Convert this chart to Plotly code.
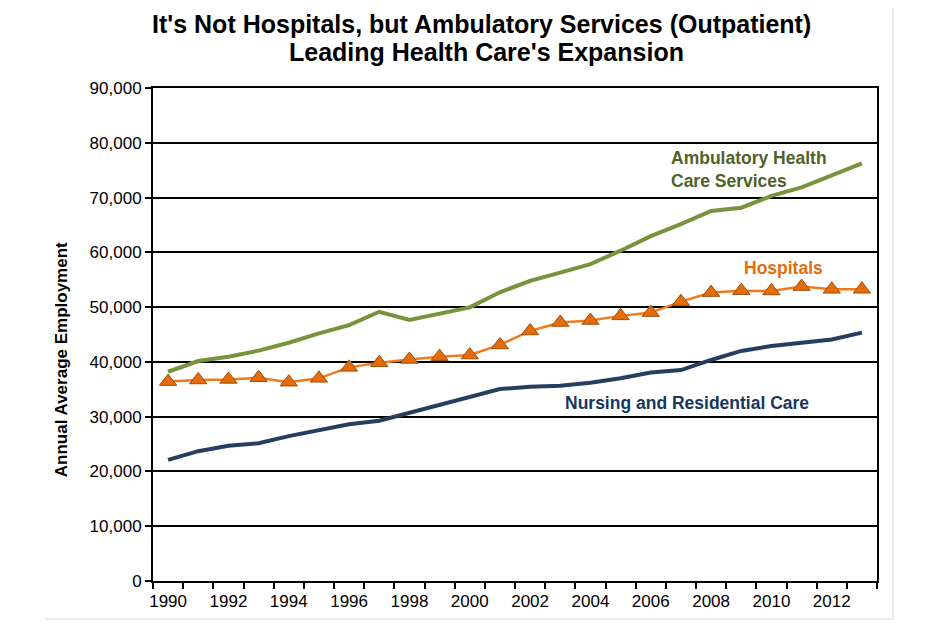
import plotly.graph_objects as go

years = list(range(1990, 2014))

ambulatory = [38200, 40150, 40950, 42050, 43500, 45200, 46700, 49150, 47650, 48750, 49950, 52700,
              54800, 56300, 57850, 60300, 62950, 65150, 67550, 68150, 70300, 71850, 74050, 76250]
hospitals = [36400, 36700, 36800, 37100, 36300, 37000, 39000, 39850, 40450, 40950, 41250, 43100,
             45650, 47200, 47550, 48400, 49000, 51000, 52650, 53000, 52950, 53750, 53250, 53250]
nursing = [22100, 23700, 24700, 25150, 26450, 27550, 28600, 29250, 30700, 32100, 33650, 35050,
           35450, 35650, 36200, 37000, 38050, 38500, 40350, 42000, 42900, 43500, 44100, 45350]

year_labels = [str(y) for y in range(1990, 2013, 2)]

title_lines = ["It's Not Hospitals, but Ambulatory Services (Outpatient)",
               "Leading Health Care's Expansion"]

fig = go.Figure()

fig.add_trace(go.Scatter(x=years, y=ambulatory, mode="lines", name="Ambulatory Health Care Services",
                         line=dict(color="#77933C", width=4)))
fig.add_trace(go.Scatter(x=years, y=nursing, mode="lines", name="Nursing and Residential Care",
                         line=dict(color="#243F60", width=4)))
fig.add_trace(go.Scatter(x=years, y=hospitals, mode="lines+markers", name="Hospitals",
                         line=dict(color="#F07B1E", width=2.5),
                         marker=dict(symbol="triangle-up", size=15, color="#E46C0A",
                                     line=dict(color="#A04E0A", width=1))))

# title lines as annotations (multi-line title got clipped at the top)
title_font = dict(family="Liberation Sans", size=25, color="black", weight="bold")
fig.add_annotation(xref="paper", yref="paper", x=0.454, y=1.130, xanchor="center", yanchor="middle",
                   text=title_lines[0], showarrow=False, font=title_font)
fig.add_annotation(xref="paper", yref="paper", x=0.460, y=1.073, xanchor="center", yanchor="middle",
                   text=title_lines[1], showarrow=False, font=title_font)

# y axis title, placed by hand (it sits a bit below the middle in the original)
fig.add_annotation(xref="paper", yref="paper", x=-0.127, y=0.448, xanchor="center", yanchor="middle",
                   text="Annual Average Employment", textangle=-90, showarrow=False,
                   font=dict(family="Liberation Sans", size=17, color="black", weight="bold"))

# series labels placed next to the lines
fig.add_annotation(x=2006.6, y=75100, text="Ambulatory Health<br>Care Services", showarrow=False,
                   xanchor="left", yanchor="middle", align="left",
                   font=dict(family="Liberation Sans", size=17.5, color="#4F6228", weight="bold"))
fig.add_annotation(x=2010.4, y=57100, text="Hospitals", showarrow=False,
                   font=dict(family="Liberation Sans", size=17.5, color="#E46C0A", weight="bold"))
fig.add_annotation(x=2007.2, y=32450, text="Nursing and Residential Care", showarrow=False,
                   font=dict(family="Liberation Sans", size=17.5, color="#17375E", weight="bold"))

# faint outer chart frame (right and bottom edges only visible)
fig.add_shape(type="line", xref="paper", yref="paper", x0=1.022, x1=1.022, y0=-0.077, y1=1.162,
              line=dict(color="#D9D9D9", width=1))
fig.add_shape(type="line", xref="paper", yref="paper", x0=-0.148, x1=1.022, y0=-0.077, y1=-0.077,
              line=dict(color="#D9D9D9", width=1))

# page body has an 8px margin, so the figure is a bit smaller and shifted
fig.update_layout(
    width=924, height=616,
    margin=dict(l=145, r=55, t=80, b=43),
    paper_bgcolor="white", plot_bgcolor="white",
    showlegend=False,
    font=dict(family="Liberation Sans", color="black"),
    xaxis=dict(range=[1989.5, 2013.5], tickvals=[int(s) for s in year_labels], ticktext=year_labels,
               ticks="", showgrid=False, zeroline=False,
               showline=True, linecolor="black", linewidth=2, mirror=True,
               tickfont=dict(size=17), ticklabelstandoff=4,
               minor=dict(tick0=1989.5, dtick=1, ticks="outside", ticklen=6, tickcolor="black",
                          tickwidth=1.5, showgrid=False)),
    yaxis=dict(range=[0, 90000], dtick=10000, tickformat=",", showgrid=True, gridcolor="black",
               gridwidth=1.5, zeroline=False, showline=True, linecolor="black", linewidth=2,
               mirror=True, ticks="outside", ticklen=6, tickcolor="black", tickwidth=1.5,
               tickfont=dict(size=17)),
)

fig.write_html("out.html")
